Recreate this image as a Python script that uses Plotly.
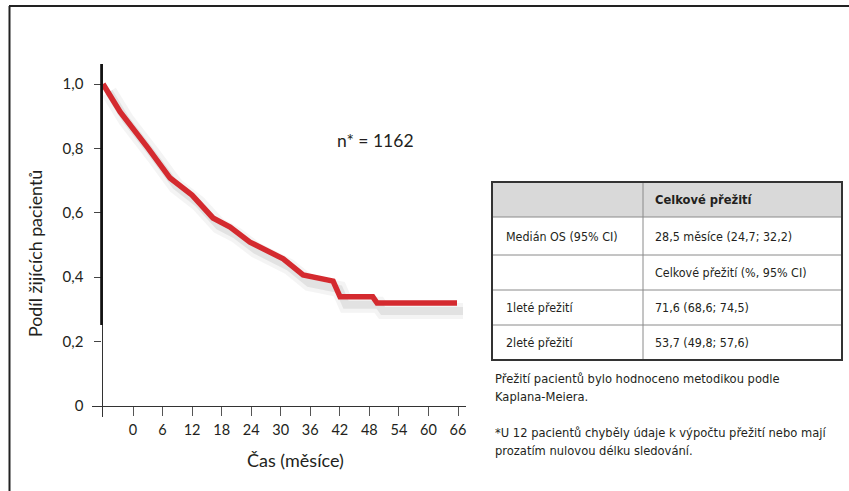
import plotly.graph_objects as go

# ---- data ----
months = [0, 3.2, 8.4, 12.5, 16.6, 20.5, 23.7, 27.4, 33.6, 37.3, 42.9, 44.2, 50.3, 51.1, 66]
survival = [1.0, 0.913, 0.801, 0.708, 0.655, 0.584, 0.556, 0.509, 0.457, 0.407, 0.388, 0.339, 0.339, 0.320, 0.320]

x_ticks = [0, 6, 12, 18, 24, 30, 36, 42, 48, 54, 60, 66]
x_tick_labels = [str(v) for v in x_ticks]
y_ticks = [0, 0.2, 0.4, 0.6, 0.8, 1.0]
y_tick_labels = ["0", "0,2", "0,4", "0,6", "0,8", "1,0"]

table_col1 = ["Medián OS (95% CI)", "", "1leté přežití", "2leté přežití"]
table_col2 = ["28,5 měsíce (24,7; 32,2)", "Celkové přežití (%, 95% CI)",
              "71,6 (68,6; 74,5)", "53,7 (49,8; 57,6)"]
table_header = ["", "<b>Celkové přežití</b>"]

n_label = "n* = 1162"
x_title = "Čas (měsíce)"
y_title = "Podíl žijících pacientů"
notes = ["Přežití pacientů bylo hodnoceno metodikou podle",
         "Kaplana-Meiera.",
         "*U 12 pacientů chyběly údaje k výpočtu přežití nebo mají",
         "prozatím nulovou délku sledování."]

# ---- layout helpers ----
W, H = 849, 491
def px(x):
    return x / W
def py(y):
    return 1 - y / H

FONT = "Lato, 'Open Sans', sans-serif"
NARROW = "'DejaVu Sans Condensed', 'Liberation Sans Narrow', sans-serif"
TXT = "#231f20"

# curve scale: month 0 at px 103, 66 at px 457
s = (457 - 103) / 66.0
xr_curve = [(92 - 103) / s, (466 - 103) / s]
# tick axis scale: 0 at px 133, 66 at px 458
s2 = (458 - 133) / 66.0
xr_ticks = [(92 - 133) / s2, (466 - 133) / s2]
# y scale: 0 at 406, 1 at 84
sy = 406 - 84
yr = [(406 - 417) / sy, (406 - 64) / sy]

fig = go.Figure()

# shadow (drawn first, on shifted axes)
fig.add_trace(go.Scatter(x=months, y=survival, xaxis="x", yaxis="y", mode="lines",
                         line=dict(color="rgba(110,110,110,0.08)", width=16),
                         hoverinfo="skip", showlegend=False))
fig.add_trace(go.Scatter(x=months, y=survival, xaxis="x", yaxis="y", mode="lines",
                         line=dict(color="rgba(110,110,110,0.13)", width=8),
                         hoverinfo="skip", showlegend=False))
# main curve
fig.add_trace(go.Scatter(x=months, y=survival, xaxis="x2", yaxis="y2", mode="lines",
                         line=dict(color="#d42a2f", width=5.5),
                         showlegend=False))
# dummy trace for tick axis
fig.add_trace(go.Scatter(x=[None], y=[None], xaxis="x3", yaxis="y2", mode="lines",
                         showlegend=False, hoverinfo="skip"))

sh_dx, sh_dy = 6, 8
fig.update_layout(
    width=W, height=H,
    margin=dict(l=0, r=0, t=0, b=0),
    paper_bgcolor="white", plot_bgcolor="rgba(0,0,0,0)",
    showlegend=False,
    font=dict(family=FONT, color=TXT),
    xaxis=dict(domain=[px(92 + sh_dx), px(466 + sh_dx)], range=xr_curve, visible=False,
               anchor="y"),
    yaxis=dict(domain=[py(417 + sh_dy), py(64 + sh_dy)], range=yr, visible=False,
               anchor="x"),
    xaxis2=dict(domain=[px(92), px(466)], range=xr_curve, visible=False, anchor="y2"),
    yaxis2=dict(domain=[py(417), py(64)], range=yr, anchor="free", position=px(101.5),
                showline=True, linecolor="#333", linewidth=1.2,
                showgrid=False, zeroline=False,
                ticks="outside", ticklen=7, tickwidth=1, tickcolor="#444",
                tickvals=y_ticks, ticktext=y_tick_labels, ticklabelstandoff=8,
                tickfont=dict(family=FONT, size=15, color=TXT)),
    xaxis3=dict(domain=[px(92), px(466)], range=xr_ticks, anchor="free",
                position=py(406),
                showline=True, linecolor="#333", linewidth=1.3,
                showgrid=False, zeroline=False,
                ticks="outside", ticklen=9, tickwidth=1, tickcolor="#555",
                tickvals=x_ticks, ticktext=x_tick_labels, ticklabelstandoff=1,
                tickfont=dict(family=FONT, size=14.5, color=TXT)),
)

# ---- table geometry (style) ----
tx0, tx1, tdiv = 492, 842, 643
row_edges = [182, 217, 255, 290, 325, 360]
GRID = "#8a8a8a"

shapes = [
    # page frame (top and left)
    dict(type="line", x0=px(9), x1=px(849), y0=py(6), y1=py(6),
         line=dict(color="#222", width=2)),
    dict(type="line", x0=px(9.5), x1=px(9.5), y0=py(6), y1=py(491),
         line=dict(color="#222", width=2)),
    # thick upper part of y axis
    dict(type="line", x0=px(101.5), x1=px(101.5), y0=py(64), y1=py(325),
         line=dict(color="#111", width=2.6)),
    # table header fill
    dict(type="rect", x0=px(tx0), x1=px(tx1), y0=py(row_edges[1]), y1=py(row_edges[0]),
         fillcolor="#d9d9d9", line=dict(width=0), layer="below"),
]
for e in row_edges[1:-1]:
    shapes.append(dict(type="line", x0=px(tx0), x1=px(tx1), y0=py(e), y1=py(e),
                       line=dict(color=GRID, width=1)))
shapes.append(dict(type="line", x0=px(tdiv), x1=px(tdiv), y0=py(row_edges[-1]), y1=py(row_edges[0]),
                   line=dict(color=GRID, width=1)))
shapes.append(dict(type="rect", x0=px(tx0), x1=px(tx1), y0=py(row_edges[-1]), y1=py(row_edges[0]),
                   line=dict(color="#333", width=2)))
for sh in shapes:
    sh.update(xref="paper", yref="paper")
fig.update_layout(shapes=shapes)

ann = [
    dict(text=n_label, x=px(375), y=py(140), xanchor="center", yanchor="middle",
         font=dict(family=FONT, size=17.5, color=TXT)),
    dict(text=x_title, x=px(295), y=py(460), xanchor="center", yanchor="middle",
         font=dict(family=FONT, size=18, color=TXT)),
    dict(text=y_title, x=px(35), y=py(254), xanchor="center", yanchor="middle",
         textangle=-90, font=dict(family=FONT, size=17.8, color=TXT)),
]
# table texts
rows1 = [table_header[0]] + table_col1
rows2 = [table_header[1]] + table_col2
for i, (a, b) in enumerate(zip(rows1, rows2)):
    yc = (row_edges[i] + row_edges[i + 1]) / 2
    for t, xl in ((a, tx0 + 12), (b, tdiv + 10)):
        if t:
            ann.append(dict(text=t, x=px(xl), y=py(yc), xanchor="left", yanchor="middle",
                            font=dict(family=NARROW, size=12.8 if i == 0 else 12.4, color=TXT)))
for t, yy in zip(notes, [378, 396, 432, 450]):
    ann.append(dict(text=t, x=px(493), y=py(yy), xanchor="left", yanchor="middle",
                    font=dict(family=NARROW, size=12.8, color=TXT)))
for a in ann:
    a.update(xref="paper", yref="paper", showarrow=False)
fig.update_layout(annotations=ann)

fig.write_html("out.html", config={"displayModeBar": False},
               post_script="document.body.style.margin='0';")
